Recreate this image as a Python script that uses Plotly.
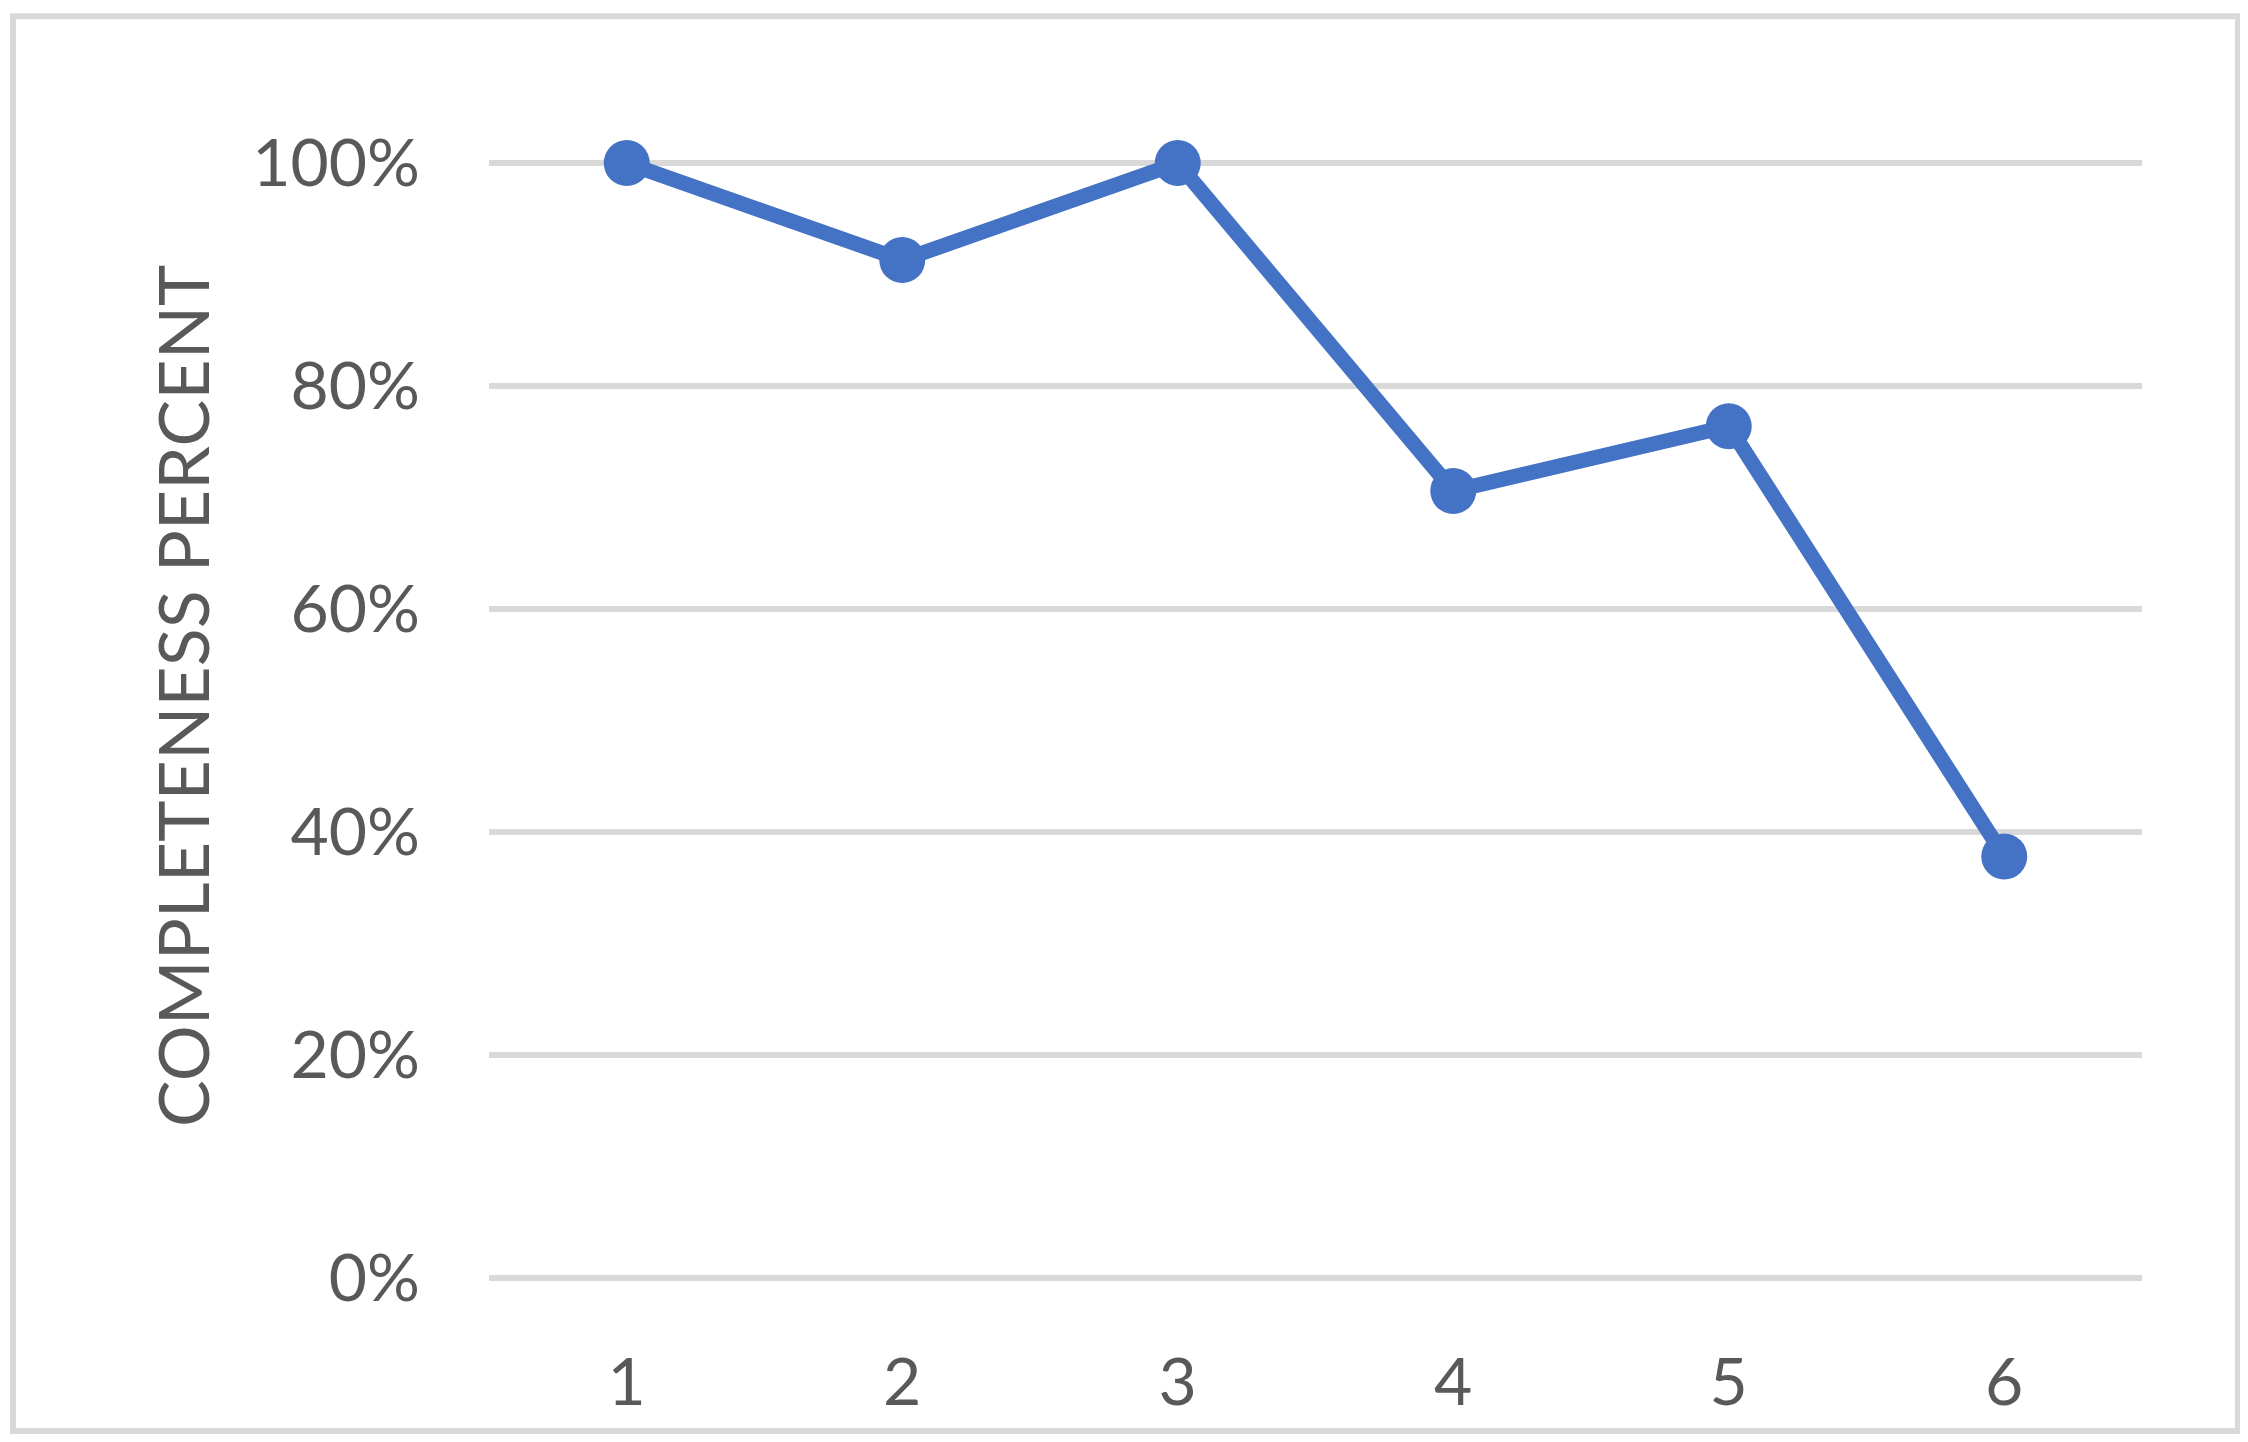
import plotly.graph_objects as go

categories = [1, 2, 3, 4, 5, 6]
tick_labels = ["1", "2", "3", "4", "5", "6"]
completeness = [1.0, 0.913, 1.0, 0.706, 0.764, 0.378]
y_ticks = [0, 0.2, 0.4, 0.6, 0.8, 1.0]
y_tick_labels = ["0%", "20%", "40%", "60%", "80%", "100%"]

OFF = 8  # page body margin
PAGE_W, PAGE_H = 2248, 1442
W, H = PAGE_W - 2 * OFF, PAGE_H - 2 * OFF
# plot area in page pixels
X0, X1, Y_TOP, Y_BOT = 489, 2142, 163, 1278
Y_MAX = 1.001
L = X0 - OFF
R = W - (X1 - OFF)
B = H - (Y_BOT - OFF)
T = (Y_TOP - OFF) - (Y_BOT - Y_TOP) * (Y_MAX - 1.0) / 1.0
PW, PH = W - L - R, H - T - B

def px_x(px):
    return (px - OFF - L) / PW

def px_y(py):
    return (H - B - (py - OFF)) / PH

BLUE = "#4472C4"
GRID = "#D9D9D9"
TXT = "#595959"
FONT = "Lato"

fig = go.Figure()
fig.add_trace(go.Scatter(
    x=categories, y=completeness, mode="lines+markers",
    line=dict(color=BLUE, width=15),
    marker=dict(color=BLUE, size=46),
    cliponaxis=False, showlegend=False,
))

fig.update_layout(
    width=W, height=H,
    margin=dict(l=L, r=R, t=T, b=B),
    paper_bgcolor="white", plot_bgcolor="white",
    font=dict(family=FONT, color=TXT),
    xaxis=dict(
        range=[0.5, 6.5], tickvals=categories, ticktext=tick_labels,
        showgrid=False, zeroline=False, showline=False,
        tickfont=dict(size=66, color=TXT, family=FONT),
        ticks="", ticklabelstandoff=60,
    ),
    yaxis=dict(
        range=[0, Y_MAX], tickvals=y_ticks, ticktext=y_tick_labels,
        showgrid=True, gridcolor=GRID, gridwidth=6,
        zeroline=True, zerolinecolor=GRID, zerolinewidth=6,
        showline=False, ticks="",
        tickfont=dict(size=66, color=TXT, family=FONT),
        ticklabelstandoff=68,
    ),
    annotations=[dict(
        text="COMPLETENESS PERCENT", xref="paper", yref="paper",
        x=px_x(182), y=px_y(696), xanchor="center", yanchor="middle",
        textangle=-90, showarrow=False,
        font=dict(size=70, color=TXT, family=FONT),
    )],
    shapes=[dict(
        type="rect", xref="paper", yref="paper",
        x0=px_x(13), x1=px_x(2238), y0=px_y(1431), y1=px_y(16),
        line=dict(color=GRID, width=6), fillcolor="rgba(0,0,0,0)", layer="below",
    )],
)

fig.write_html("out.html")
